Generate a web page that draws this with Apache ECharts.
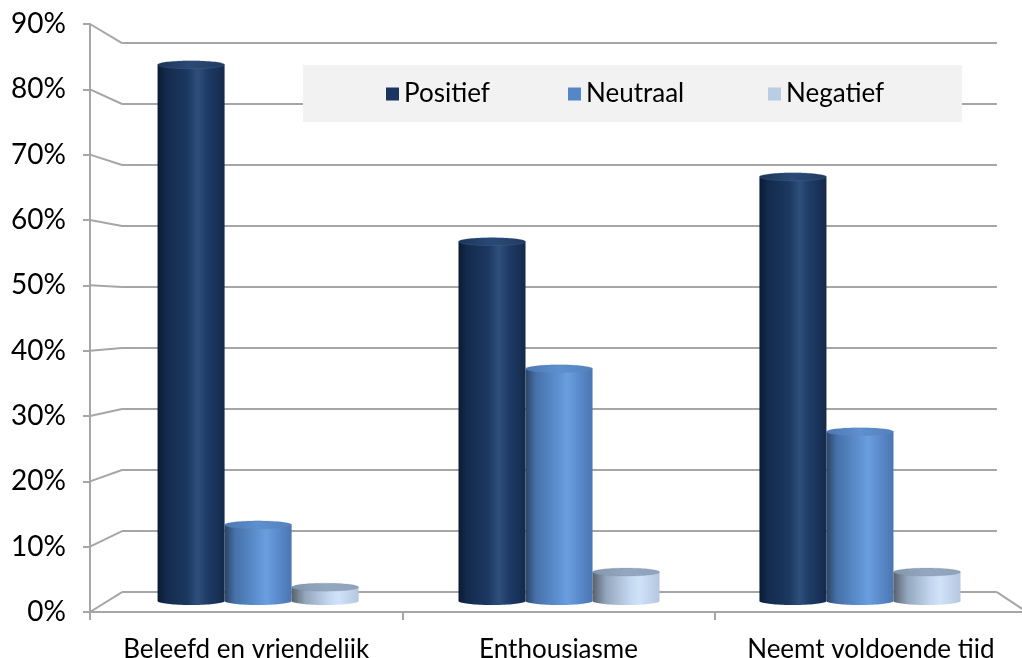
<!DOCTYPE html>
<html>
<head>
<meta charset="utf-8">
<title>Beoordeling</title>
<script src="https://cdn.jsdelivr.net/npm/echarts@6/dist/echarts.min.js"></script>
<style>
  html, body { margin: 0; padding: 0; background: #ffffff; }
  #chart { width: 1022px; height: 658px; }
</style>
</head>
<body>
<div id="chart"></div>
<script>
// ---- data ----
const categories = ['Beleefd en vriendelijk', 'Enthousiasme', 'Neemt voldoende tijd'];
const seriesNames = ['Positief', 'Neutraal', 'Negatief'];
const positief = [85.2, 57.1, 67.4];
const neutraal = [12.1, 36.9, 26.9];
const negatief = [2.2, 4.6, 4.6];
const yTickValues = [0, 10, 20, 30, 40, 50, 60, 70, 80, 90];

// ---- layout of the pseudo-3D box ----
const FONT = 'Lato, "Noto Sans", sans-serif';
const GRID_LINE = '#a6a6a6';
const FRONT = { left: 90, top: 24, width: 937, height: 588 };   // front plane (axes)
const VANISH = [573, 311];                                         // perspective centre
const DEPTH_BACK = 0.9337;                                         // back wall scale
const DEPTH_BARS = 0.9635;                                         // plane of the cylinders
const BAR_FRACTION = 0.2227;                                       // cylinder width / category band
const CAP_RY = 4;                                                  // half height of the ellipse caps

function plane(k) {
  return {
    left: VANISH[0] + (FRONT.left - VANISH[0]) * k,
    top: VANISH[1] + (FRONT.top - VANISH[1]) * k,
    width: FRONT.width * k,
    height: FRONT.height * k
  };
}
function toDepth(p, k) {
  return [VANISH[0] + (p[0] - VANISH[0]) * k, VANISH[1] + (p[1] - VANISH[1]) * k];
}

const BACK = plane(DEPTH_BACK);
const BARS = plane(DEPTH_BARS);

const styles = [
  {
    legend: '#1b3560',
    body: [[0, '#0b1a31'], [0.12, '#132a4c'], [0.45, '#1c3961'], [0.6, '#2f4f7b'], [0.75, '#1e3b66'], [1, '#142a4c']],
    cap: [[0, '#1a355c'], [0.5, '#2a4a76'], [1, '#1f3b64']]
  },
  {
    legend: '#5586c8',
    body: [[0, '#2a4464'], [0.15, '#4670a8'], [0.5, '#5f92d2'], [0.62, '#6a9ee0'], [0.85, '#5785c5'], [1, '#4a76b1']],
    cap: [[0, '#4a78b6'], [0.5, '#5e8fcf'], [1, '#5281c0']]
  },
  {
    legend: '#b9cde5',
    body: [[0, '#58606b'], [0.2, '#92a5bc'], [0.55, '#c2d7ef'], [0.7, '#cfe2f8'], [1, '#b3c7df']],
    cap: [[0, '#8296ab'], [0.5, '#93a8bf'], [1, '#8ea3b9']]
  }
];

function gradient(stops) {
  return {
    type: 'linear', x: 0, y: 0, x2: 1, y2: 0,
    colorStops: stops.map(s => ({ offset: s[0], color: s[1] }))
  };
}

function cylinderRenderer(idx) {
  return function (params, api) {
    const cat = api.value(0);
    const val = api.value(1);
    const top = api.coord([cat, val]);
    const base = api.coord([cat, 0]);
    const band = api.size([1, 0])[0];
    const w = band * BAR_FRACTION;
    const cx = top[0] + (idx - 1) * w;
    const rx = w / 2;
    const x0 = cx - rx, x1 = cx + rx;
    const steps = 40;
    const body = [[x0, top[1]]];
    for (let i = 0; i <= steps; i++) {
      const t = Math.PI - Math.PI * i / steps;
      body.push([cx + rx * Math.cos(t), base[1] + CAP_RY * Math.sin(t)]);
    }
    body.push([x1, top[1]]);
    const cap = [];
    for (let i = 0; i < steps * 2; i++) {
      const t = Math.PI * 2 * i / (steps * 2);
      cap.push([cx + rx * Math.cos(t), top[1] + CAP_RY * Math.sin(t)]);
    }
    return {
      type: 'group',
      children: [
        { type: 'polygon', shape: { points: body }, style: { fill: gradient(styles[idx].body) } },
        { type: 'polygon', shape: { points: cap }, style: { fill: gradient(styles[idx].cap), stroke: 'rgba(120,130,150,0.35)', lineWidth: 0.6 } }
      ]
    };
  };
}

// slanted wall edges joining front ticks to back gridlines, plus the floor's right edge
function wallRenderer(params, api) {
  const v = api.value(0);
  const yFront = api.coord([0, v])[1];
  const front = [params.coordSys.x, yFront];
  const back = toDepth(front, DEPTH_BACK);
  const children = [{
    type: 'line',
    shape: { x1: front[0], y1: front[1], x2: back[0], y2: back[1] },
    style: { stroke: GRID_LINE, lineWidth: 2 }
  }];
  if (v === 0) {
    const frontR = [params.coordSys.x + params.coordSys.width, yFront];
    const backR = toDepth(frontR, DEPTH_BACK);
    children.push({
      type: 'line',
      shape: { x1: backR[0], y1: backR[1], x2: frontR[0], y2: frontR[1] },
      style: { stroke: GRID_LINE, lineWidth: 2 }
    });
  }
  return { type: 'group', children: children };
}

const valueSets = [positief, neutraal, negatief];
const legendLefts = [386, 568, 768];

const chart = echarts.init(document.getElementById('chart'), null, { renderer: 'canvas' });

function gridBox(p) {
  return {
    left: p.left, top: p.top, width: p.width, height: p.height,
    containLabel: false, outerBoundsMode: 'none'
  };
}

const option = {
  animation: false,
  backgroundColor: '#ffffff',
  textStyle: { fontFamily: FONT },
  grid: [gridBox(FRONT), gridBox(BACK), gridBox(BARS)],
  xAxis: [
    {
      gridIndex: 0, type: 'category', data: categories, boundaryGap: true,
      axisLine: { show: true, lineStyle: { color: GRID_LINE, width: 2 } },
      axisTick: { show: true, length: 8, inside: false, lineStyle: { color: GRID_LINE, width: 2 } },
      axisLabel: { margin: 25, fontSize: 26, color: '#000', fontFamily: FONT, interval: 0 }
    },
    { gridIndex: 1, type: 'category', data: categories, show: false },
    { gridIndex: 2, type: 'category', data: categories, show: false }
  ],
  yAxis: [
    {
      gridIndex: 0, type: 'value', min: 0, max: 90, interval: 10,
      axisLine: { show: true, lineStyle: { color: GRID_LINE, width: 2 } },
      axisTick: { show: true, length: 7, lineStyle: { color: GRID_LINE, width: 2 } },
      splitLine: { show: false },
      axisLabel: { margin: 24, fontSize: 28, color: '#000', fontFamily: FONT, formatter: '{value}%' }
    },
    {
      gridIndex: 1, type: 'value', min: 0, max: 90, interval: 10,
      axisLine: { show: false }, axisTick: { show: false }, axisLabel: { show: false },
      splitLine: { show: true, lineStyle: { color: GRID_LINE, width: 2 } }
    },
    {
      gridIndex: 2, type: 'value', min: 0, max: 90, interval: 10, show: false,
      splitLine: { show: false }
    }
  ],
  legend: seriesNames.map((name, i) => ({
    data: [name],
    left: legendLefts[i],
    top: 81,
    icon: 'rect',
    itemWidth: 13,
    itemHeight: 13,
    padding: 0,
    selectedMode: false,
    z: 10,
    textStyle: { fontFamily: FONT, fontSize: 26, color: '#000' }
  })),
  graphic: [{
    type: 'rect', z: 5,
    shape: { x: 303, y: 65, width: 659, height: 57 },
    style: { fill: '#f2f2f2' }
  }],
  series: [
    {
      type: 'custom', name: 'wall', xAxisIndex: 0, yAxisIndex: 0, z: 1,
      silent: true,
      data: yTickValues.map(v => [v]),
      encode: { y: 0 },
      renderItem: wallRenderer
    }
  ].concat(seriesNames.map((name, i) => ({
    type: 'custom', name: name, xAxisIndex: 2, yAxisIndex: 2, z: 3,
    itemStyle: { color: styles[i].legend },
    data: valueSets[i].map((v, c) => [c, v]),
    encode: { x: 0, y: 1 },
    renderItem: cylinderRenderer(i)
  })))
};

chart.setOption(option);
</script>
</body>
</html>
